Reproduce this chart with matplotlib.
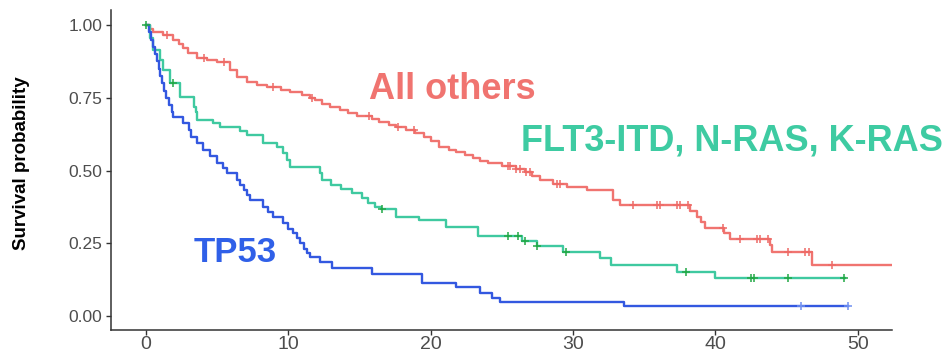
import matplotlib.pyplot as plt
import numpy as np

plt.rcParams['font.family'] = ['Liberation Sans', 'DejaVu Sans']

# Kaplan-Meier steps: (time in months, survival after the drop)
others_time = [0.3, 0.5, 1.2, 1.9, 2.3, 2.6, 2.95, 3.6, 4.3, 5.0, 5.9, 6.4, 7.1, 7.8,
               8.5, 9.5, 10.1, 11.0, 11.5, 11.9, 12.4, 12.9, 13.6, 14.2, 14.8, 15.9,
               16.4, 17.1, 17.6, 18.3, 18.9, 19.5, 20.0, 20.6, 21.3, 21.8, 22.4, 23.0,
               23.5, 24.0, 25.0, 26.0, 26.6, 27.1, 27.7, 28.6, 29.6, 31.0, 32.8, 33.3,
               38.2, 38.7, 39.0, 39.3, 40.6, 41.0, 43.8, 44.0, 46.8]
others_surv = [0.988, 0.976, 0.965, 0.948, 0.935, 0.92, 0.904, 0.888, 0.880, 0.873,
               0.845, 0.82, 0.805, 0.795, 0.787, 0.777, 0.770, 0.760, 0.750, 0.742,
               0.730, 0.718, 0.708, 0.697, 0.686, 0.677, 0.667, 0.658, 0.650, 0.640,
               0.630, 0.615, 0.600, 0.582, 0.572, 0.564, 0.553, 0.543, 0.534, 0.526,
               0.515, 0.505, 0.495, 0.482, 0.467, 0.455, 0.443, 0.433, 0.400, 0.380,
               0.360, 0.340, 0.323, 0.302, 0.285, 0.265, 0.244, 0.220, 0.175]
others_end = 52.4
others_cens = [1.5, 4.1, 5.5, 8.9, 11.7, 15.7, 17.7, 18.8, 25.4, 25.6, 26.0, 26.3, 26.7,
               27.0, 28.9, 29.1, 34.2, 35.9, 36.1, 37.3, 37.5, 38.1, 40.5, 41.7, 42.9,
               43.1, 43.7, 45.1, 46.3, 46.6, 48.2]

ras_time = [0.3, 0.5, 1.0, 1.2, 1.7, 2.4, 3.4, 3.5, 3.6, 4.7, 5.2, 6.6, 7.1, 8.2, 9.2,
            9.6, 9.9, 10.1, 12.2, 12.4, 13.0, 13.7, 14.5, 15.2, 15.6, 16.1, 16.5, 17.6,
            19.2, 21.1, 23.3, 26.4, 27.5, 29.3, 31.9, 32.7, 37.3, 40.0]
ras_surv = [0.957, 0.914, 0.88, 0.845, 0.80, 0.753, 0.72, 0.70, 0.674, 0.663, 0.650,
            0.635, 0.622, 0.595, 0.58, 0.56, 0.535, 0.512, 0.49, 0.467, 0.452, 0.437,
            0.422, 0.405, 0.39, 0.375, 0.368, 0.340, 0.330, 0.306, 0.275, 0.258, 0.240,
            0.220, 0.200, 0.175, 0.153, 0.131]
ras_end = 49.1
ras_cens = [0.0, 1.9, 16.6, 25.4, 26.1, 26.6, 27.5, 29.5, 37.9, 42.5, 42.7, 45.1, 49.0]

tp53_time = [0.2, 0.35, 0.5, 0.63, 0.75, 0.9, 1.0, 1.15, 1.3, 1.4, 1.6, 1.8, 1.9, 2.6,
             3.0, 3.2, 3.6, 4.0, 4.5, 5.0, 5.4, 5.7, 6.4, 6.6, 6.9, 7.1, 7.3, 8.2, 8.6,
             8.9, 9.6, 10.0, 10.3, 10.6, 10.8, 11.1, 11.3, 11.5, 12.2, 13.1, 15.9, 19.4,
             21.8, 23.5, 24.3, 24.9, 33.6]
tp53_surv = [0.975, 0.95, 0.925, 0.90, 0.875, 0.85, 0.825, 0.80, 0.775, 0.75, 0.725,
             0.70, 0.684, 0.663, 0.64, 0.615, 0.595, 0.570, 0.550, 0.526, 0.508, 0.491,
             0.467, 0.45, 0.433, 0.415, 0.399, 0.375, 0.357, 0.340, 0.320, 0.30, 0.285,
             0.268, 0.251, 0.23, 0.215, 0.203, 0.186, 0.165, 0.145, 0.113, 0.100, 0.079,
             0.063, 0.048, 0.034]
tp53_end = 49.3
tp53_cens = [46.0, 49.3]

groups = [
    (others_time, others_surv, others_end, others_cens, '#f07470', '#ee6a66'),
    (ras_time, ras_surv, ras_end, ras_cens, '#3fc9a0', '#22a845'),
    (tp53_time, tp53_surv, tp53_end, tp53_cens, '#3358e0', '#6f8ff0'),
]

fig = plt.figure(figsize=(9.47, 3.53), dpi=100)
ax = fig.add_axes([0.1172, 0.0652, 0.8247, 0.9065])

for t, s, end, cens, col, ccol in groups:
    tt = np.concatenate([[0.0], t, [end]])
    ss = np.concatenate([[1.0], s, [s[-1]]])
    ax.step(tt, ss, where='post', color=col, lw=1.7, zorder=2)
    idx = np.searchsorted(tt, cens, side='right') - 1
    ax.plot(cens, ss[idx], ls='none', marker='+', ms=5.5, mew=1.1, color=ccol, zorder=3)

ax.text(21.5, 0.746, 'All others', color='#f07470', fontsize=26, fontweight='bold',
        ha='center', va='baseline')
ax.text(41.15, 0.570, 'FLT3-ITD, N-RAS, K-RAS', color='#3ecba2', fontsize=26,
        fontweight='bold', ha='center', va='baseline')
ax.text(6.3, 0.186, 'TP53', color='#3060e8', fontsize=25, fontweight='bold',
        ha='center', va='baseline')

ax.set_xlim(-2.45, 52.4)
ax.set_ylim(-0.048, 1.052)
ax.set_xticks([0, 10, 20, 30, 40, 50])
ax.set_yticks([0, 0.25, 0.5, 0.75, 1.0])
ax.set_yticklabels(['0.00', '0.25', '0.50', '0.75', '1.00'])
for side in ['top', 'right']:
    ax.spines[side].set_visible(False)
for side in ['left', 'bottom']:
    ax.spines[side].set_color('#333333')
    ax.spines[side].set_linewidth(1.1)
ax.tick_params(axis='both', colors='#333333', length=3.6, width=1.0, labelcolor='#4d4d4d')
ax.tick_params(axis='y', labelsize=12.5, pad=2.5)
ax.tick_params(axis='x', labelsize=14, pad=1)

fig.text(22 / 947, 1 - 163 / 353, 'Survival probability', rotation=90, fontsize=13.5,
         fontweight='bold', ha='center', va='center', color='black')

fig.savefig('out.png', dpi=100)
